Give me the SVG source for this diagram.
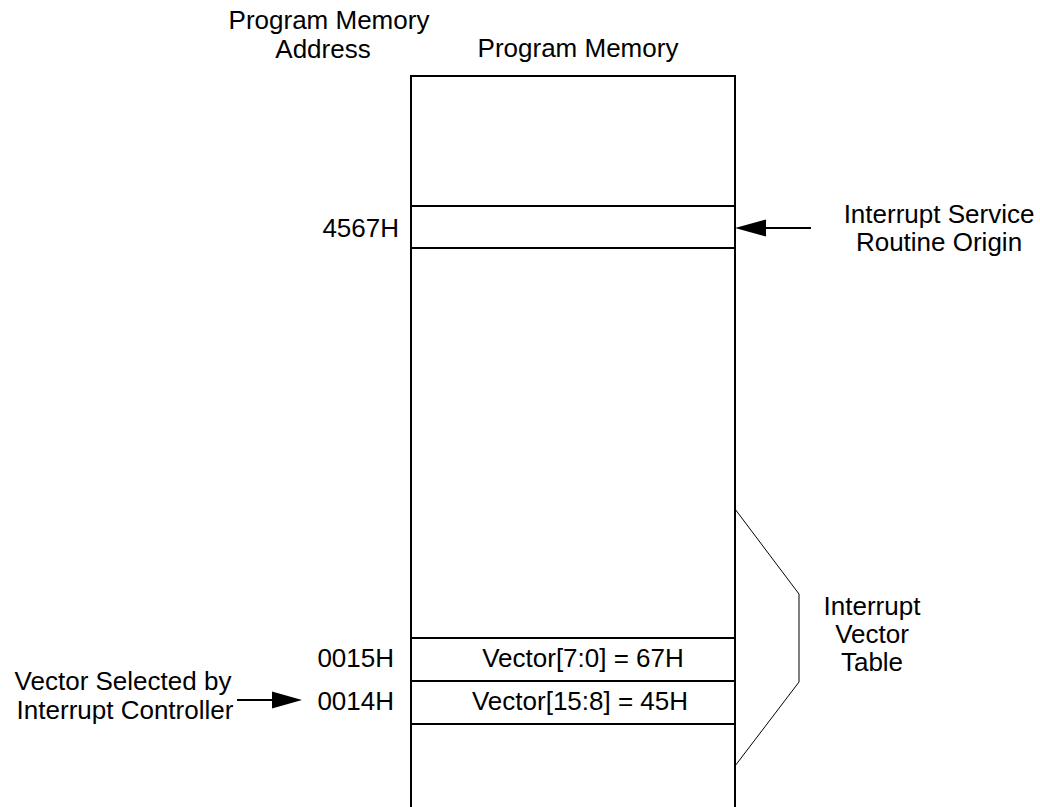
<svg xmlns="http://www.w3.org/2000/svg" width="1040" height="807" viewBox="0 0 1040 807">
<style>
text{font-family:"Liberation Sans",Arial,sans-serif;font-size:26px;fill:#000}
.c{text-anchor:middle}
.e{text-anchor:end}
.box{fill:none;stroke:#000;stroke-width:2}
.thin{fill:none;stroke:#000;stroke-width:1}
.ar{fill:none;stroke:#000;stroke-width:2}
</style>
<rect width="1040" height="807" fill="#fff"/>
<g id="header-address"><text class="c" x="329" y="29">Program Memory</text><text class="c" x="323" y="58">Address</text></g>
<g id="header-memory"><text class="c" x="578" y="57">Program Memory</text></g>
<g id="memory">
<path class="box" d="M411,810 V76 H735 V810"/>
</g>
<g id="isr-row">
<path class="box" d="M411,206 H735 M411,248 H735"/>
<text class="e" x="399" y="237">4567H</text>
</g>
<g id="vec-low">
<path class="box" d="M411,638 H735 M411,681 H735"/>
<text class="e" x="394" y="667">0015H</text>
<text class="c" x="583" y="667">Vector[7:0] = 67H</text>
</g>
<g id="vec-high">
<path class="box" d="M411,724 H735"/>
<text class="e" x="394" y="710">0014H</text>
<text class="c" x="580" y="710">Vector[15:8] = 45H</text>
</g>
<g id="isr-label"><text class="c" x="939" y="223">Interrupt Service</text><text class="c" x="939" y="251">Routine Origin</text></g>
<g id="ivt-label"><text class="c" x="872" y="615">Interrupt</text><text class="c" x="872" y="643">Vector</text><text class="c" x="872" y="671">Table</text></g>
<g id="ctrl-label"><text class="c" x="123" y="690">Vector Selected by</text><text class="c" x="125" y="719">Interrupt Controller</text></g>
<g id="connectors">
<path class="ar" d="M811,228 H764"/>
<polygon points="735,228 766,219.5 766,236.5" fill="#000"/>
<path class="ar" d="M237,700 H274"/>
<polygon points="302,700 272,691.5 272,708.5" fill="#000"/>
<path class="thin" d="M735,509 L799,594 V682 L735,766"/>
</g>
</svg>
